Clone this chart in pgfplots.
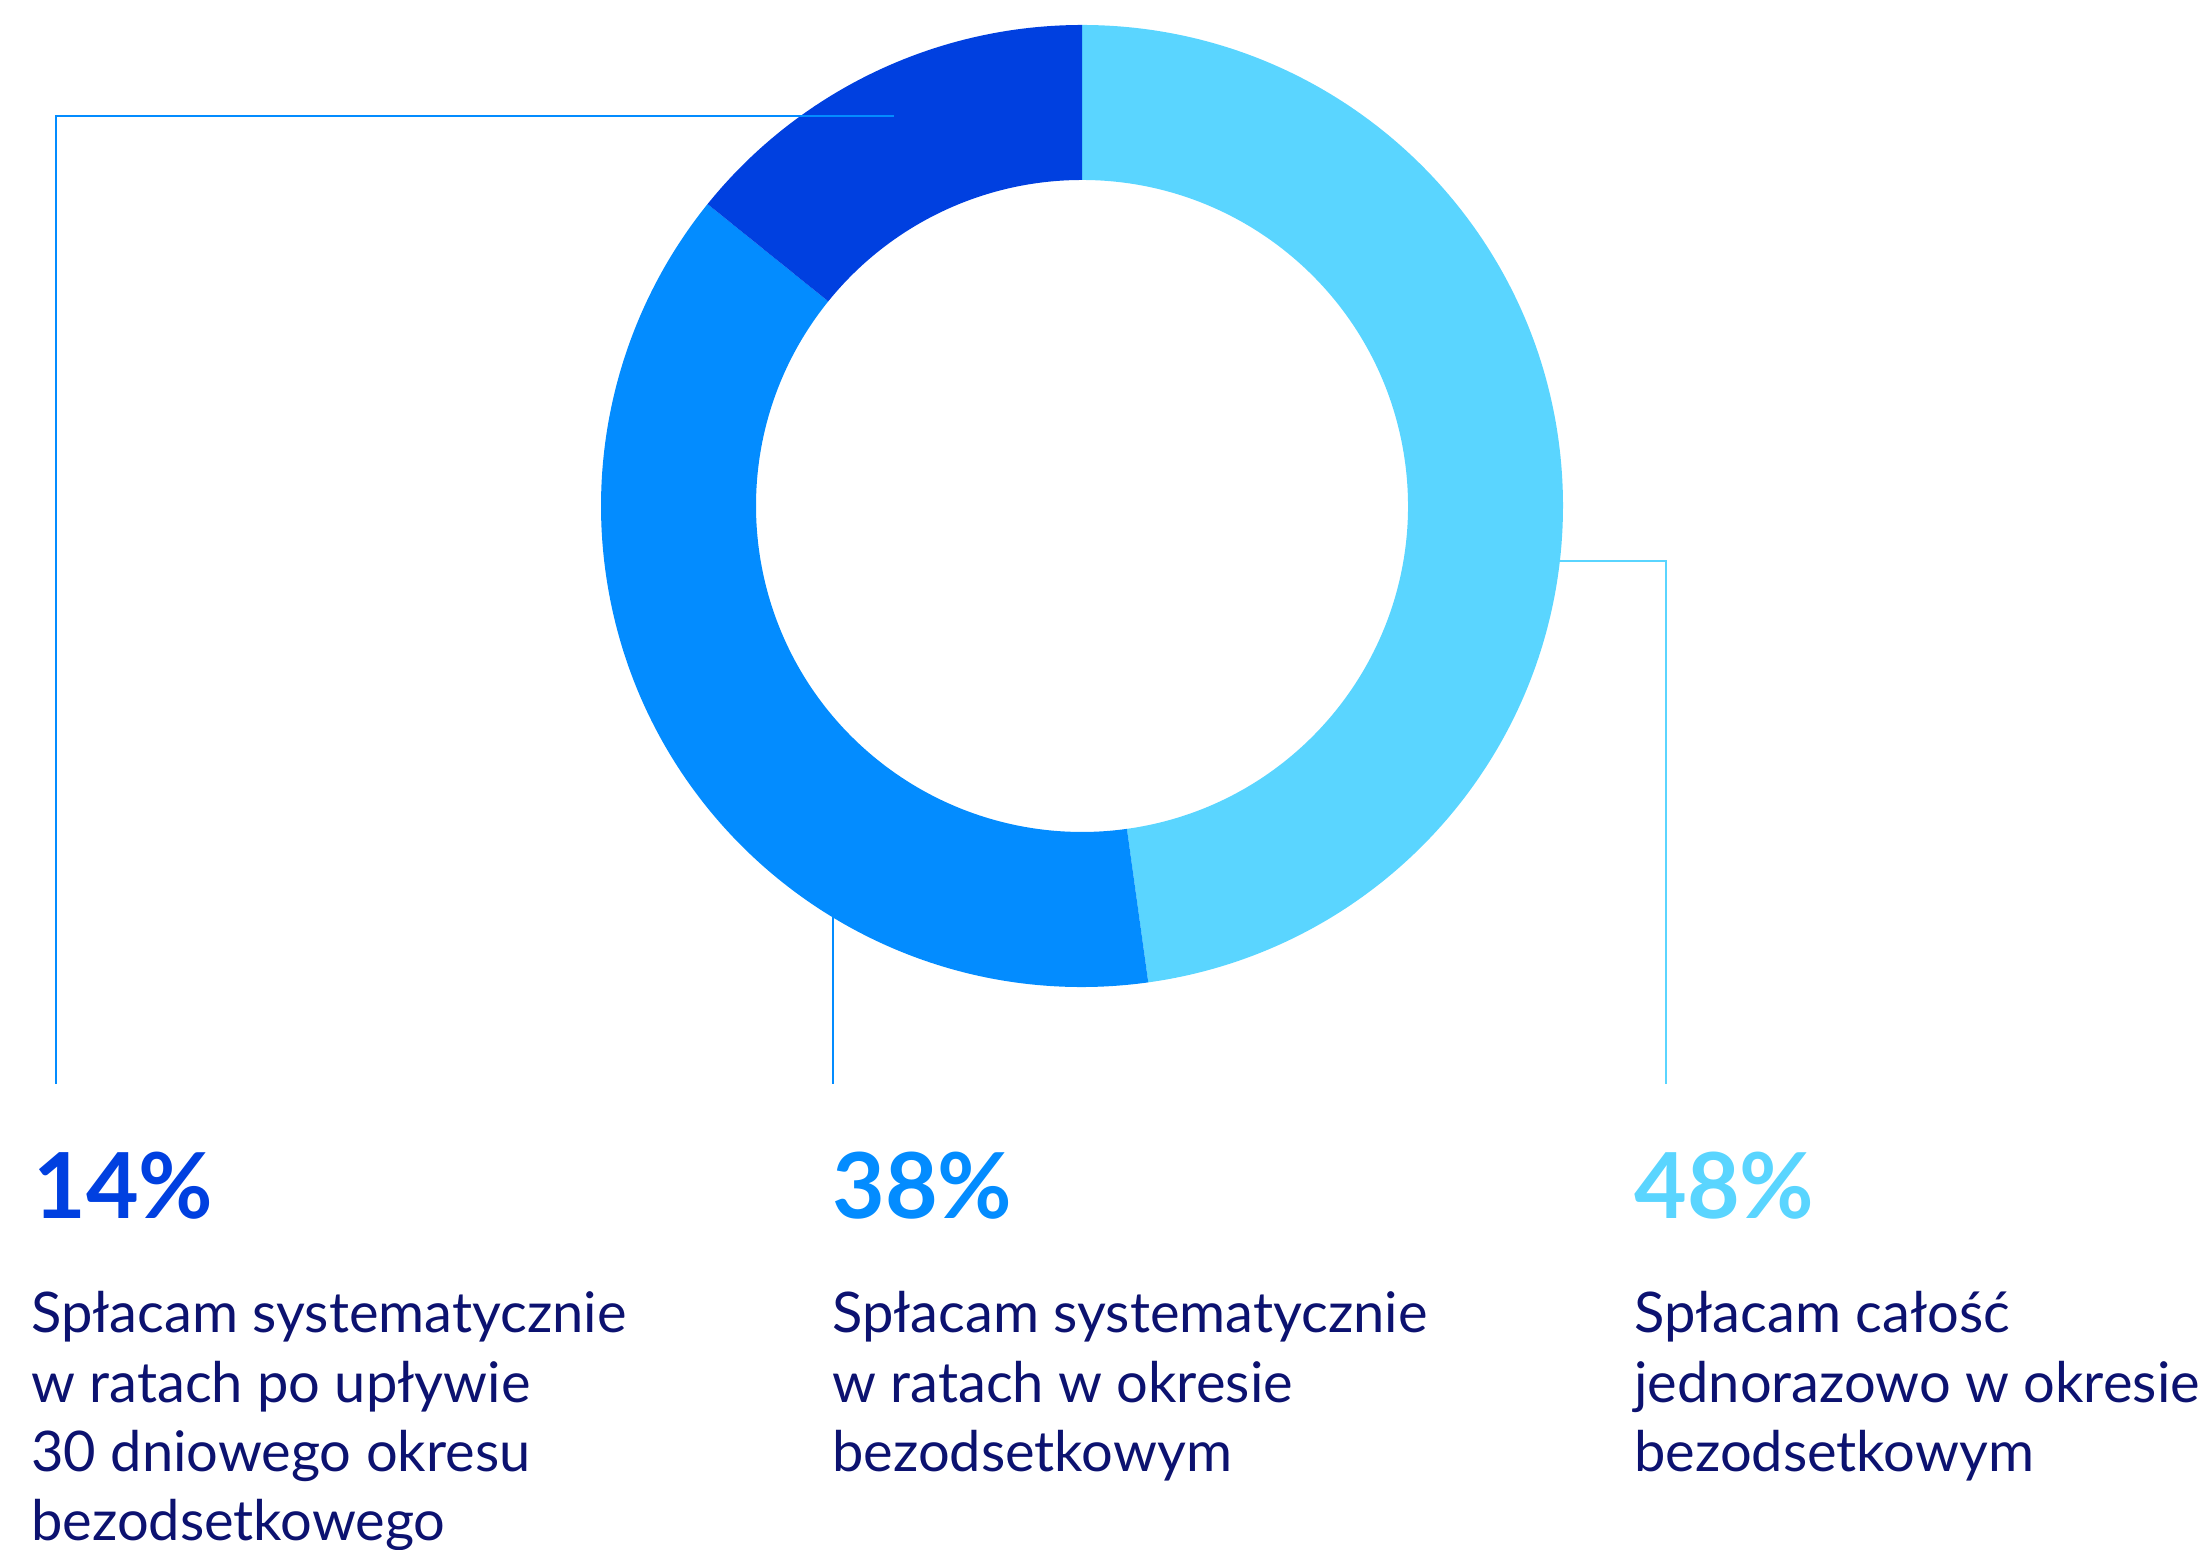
\documentclass[border=0pt]{standalone}
\usepackage{fontspec}
\setmainfont{Lato}
\usepackage{pgfplots}
\pgfplotsset{compat=1.18}
\usepackage{pgfplotstable}
\definecolor{cDark}{HTML}{0040E0}
\definecolor{cMid}{HTML}{038CFF}
\definecolor{cLight}{HTML}{5AD5FF}
\definecolor{cText}{HTML}{0C1270}

% shares in percent (as drawn), clockwise from 12 o'clock
\pgfplotstableread{
share
47.8
38.0
14.2
}\sharetable
\pgfplotstablegetelem{0}{share}\of\sharetable \let\sA\pgfplotsretval
\pgfplotstablegetelem{1}{share}\of\sharetable \let\sB\pgfplotsretval
\pgfplotstablegetelem{2}{share}\of\sharetable \let\sC\pgfplotsretval
\pgfmathsetmacro\angA{90}
\pgfmathsetmacro\angB{\angA-3.6*\sA}
\pgfmathsetmacro\angC{\angB-3.6*\sB}
\pgfmathsetmacro\angD{\angC-3.6*\sC}

\newcommand\pct[1]{\fontsize{45.5}{45.5}\selectfont\bfseries #1}
\newcommand\dsc{\fontsize{28}{28}\selectfont}

\begin{document}
\begin{tikzpicture}
\useasboundingbox (0,0) rectangle (1104pt,775pt);
\begin{axis}[
  x=0.5pt, y=0.5pt, disabledatascaling,
  xmin=0, xmax=2208, ymin=0, ymax=1550,
  hide axis, clip=false, scale only axis,
  anchor=south west, at={(0,0)}]
% donut (centre 1082,1044; outer r 481 px = 240.5pt; inner r 326 px = 163pt)
\fill[cLight] (axis cs:1082,1044) ++(\angA:240.5pt) arc[start angle=\angA, end angle=\angB, radius=240.5pt] -- ++(\angB:-77.5pt) arc[start angle=\angB, end angle=\angA, radius=163pt] -- cycle;
\fill[cMid] (axis cs:1082,1044) ++(\angB:240.5pt) arc[start angle=\angB, end angle=\angC, radius=240.5pt] -- ++(\angC:-77.5pt) arc[start angle=\angC, end angle=\angB, radius=163pt] -- cycle;
\fill[cDark] (axis cs:1082,1044) ++(\angC:240.5pt) arc[start angle=\angC, end angle=\angD, radius=240.5pt] -- ++(\angD:-77.5pt) arc[start angle=\angD, end angle=\angC, radius=163pt] -- cycle;
% leader lines
\addplot[cMid, line width=0.75pt, no markers] coordinates {(894,1434) (56,1434) (56,466)};
\addplot[cMid, line width=0.75pt, no markers] coordinates {(833,660) (833,466)};
\addplot[cLight, line width=0.75pt, no markers] coordinates {(1550,989) (1666,989) (1666,466)};
% column 1
\node[anchor=base west, inner sep=0, text=cDark] at (axis cs:33,331) {\pct{14\%}};
\node[anchor=base west, inner sep=0, text=cText] at (axis cs:31,217) {\dsc Spłacam systematycznie};
\node[anchor=base west, inner sep=0, text=cText] at (axis cs:31,147.7) {\dsc w ratach po upływie};
\node[anchor=base west, inner sep=0, text=cText] at (axis cs:31,78.4) {\dsc 30 dniowego okresu};
\node[anchor=base west, inner sep=0, text=cText] at (axis cs:31,9) {\dsc bezodsetkowego};
% column 2
\node[anchor=base west, inner sep=0, text=cMid] at (axis cs:832,331) {\pct{38\%}};
\node[anchor=base west, inner sep=0, text=cText] at (axis cs:832,217) {\dsc Spłacam systematycznie};
\node[anchor=base west, inner sep=0, text=cText] at (axis cs:832,147.7) {\dsc w ratach w okresie};
\node[anchor=base west, inner sep=0, text=cText] at (axis cs:832,78.4) {\dsc bezodsetkowym};
% column 3
\node[anchor=base west, inner sep=0, text=cLight] at (axis cs:1634,331) {\pct{48\%}};
\node[anchor=base west, inner sep=0, text=cText] at (axis cs:1634,217) {\dsc Spłacam całość};
\node[anchor=base west, inner sep=0, text=cText] at (axis cs:1634,147.7) {\dsc jednorazowo w okresie};
\node[anchor=base west, inner sep=0, text=cText] at (axis cs:1634,78.4) {\dsc bezodsetkowym};
\end{axis}
\end{tikzpicture}
\end{document}
